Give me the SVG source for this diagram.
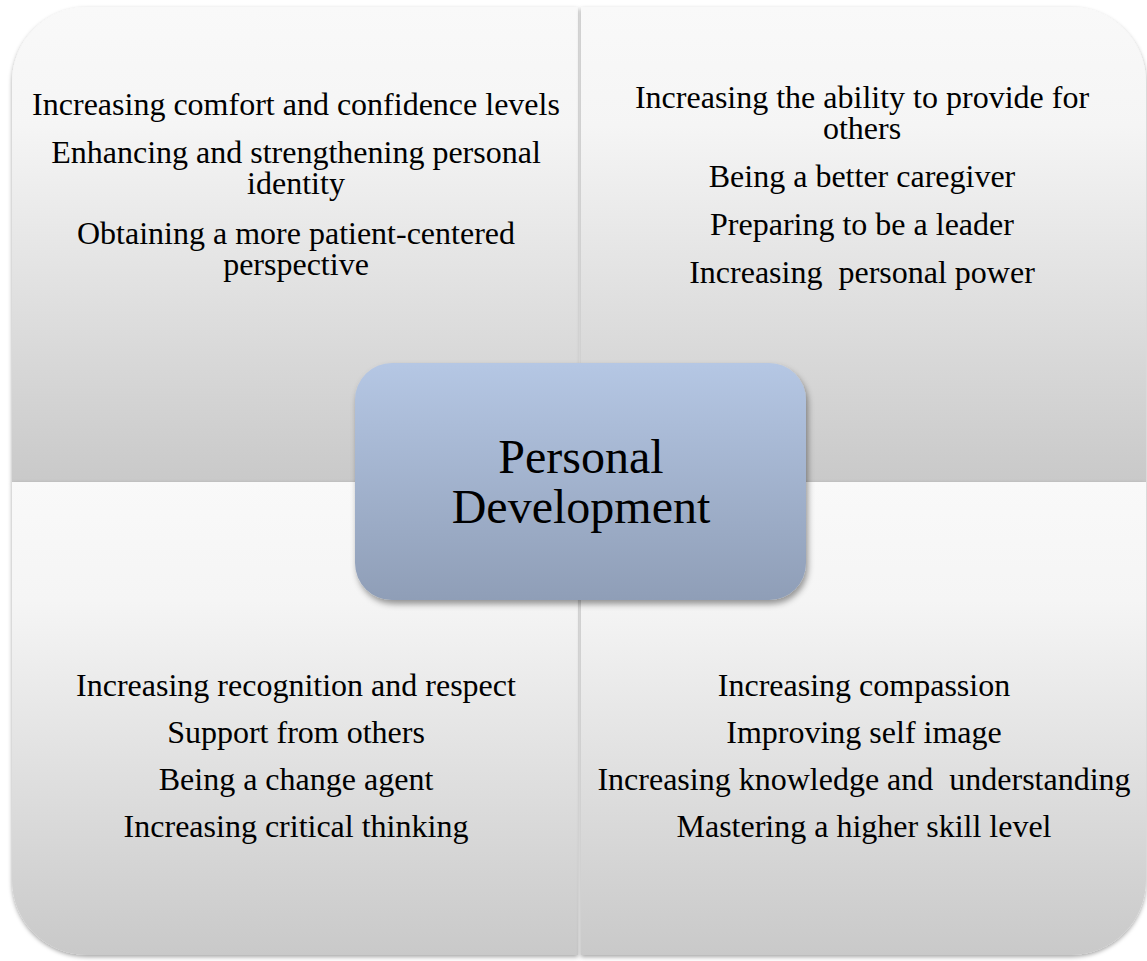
<svg xmlns="http://www.w3.org/2000/svg" width="1147" height="961" viewBox="0 0 1147 961">
<style>
  .q text, .c text { font-family: "Liberation Serif", "Times New Roman", serif; fill: #000; text-anchor: middle; }
  .q text { font-size: 32px; white-space: pre; }
  .c text { font-size: 48px; }
</style>
<defs>
  <linearGradient id="gq" x1="0" y1="0" x2="0" y2="1">
    <stop offset="0" stop-color="#f9f9f9"/>
    <stop offset="0.25" stop-color="#f5f5f5"/>
    <stop offset="1" stop-color="#c9c9c9"/>
  </linearGradient>
  <linearGradient id="gc" x1="0" y1="0" x2="0" y2="1">
    <stop offset="0" stop-color="#b5c7e4"/>
    <stop offset="1" stop-color="#8f9eb7"/>
  </linearGradient>
  <filter id="sh" x="-5%" y="-5%" width="110%" height="110%">
    <feDropShadow dx="0" dy="2" stdDeviation="2" flood-color="#000" flood-opacity="0.35"/>
  </filter>
  <filter id="shc" x="-10%" y="-10%" width="120%" height="125%">
    <feDropShadow dx="2" dy="4" stdDeviation="3" flood-color="#000" flood-opacity="0.4"/>
  </filter>
</defs>
<rect width="1147" height="961" fill="#ffffff"/>
<g id="q-top-left" class="q">
  <path d="M12,82 A75,75 0 0 1 87,7 L578,7 L578,482 L12,482 Z" fill="url(#gq)" filter="url(#sh)"/>
  <text x="296" y="115">Increasing comfort and confidence levels</text>
  <text x="296" y="163">Enhancing and strengthening personal<tspan x="296" dy="31">identity</tspan></text>
  <text x="296" y="244">Obtaining a more patient-centered<tspan x="296" dy="31">perspective</tspan></text>
</g>
<g id="q-top-right" class="q">
  <path d="M581,7 L1071,7 A75,75 0 0 1 1146,82 L1146,482 L581,482 Z" fill="url(#gq)" filter="url(#sh)"/>
  <text x="862" y="108">Increasing the ability to provide for<tspan x="862" dy="31">others</tspan></text>
  <text x="862" y="187">Being a better caregiver</text>
  <text x="862" y="235">Preparing to be a leader</text>
  <text x="862" y="283">Increasing  personal power</text>
</g>
<g id="q-bottom-left" class="q">
  <path d="M12,482 L578,482 L578,955 L87,955 A75,75 0 0 1 12,880 Z" fill="url(#gq)" filter="url(#sh)"/>
  <text x="296" y="696">Increasing recognition and respect</text>
  <text x="296" y="743">Support from others</text>
  <text x="296" y="790">Being a change agent</text>
  <text x="296" y="837">Increasing critical thinking</text>
</g>
<g id="q-bottom-right" class="q">
  <path d="M581,482 L1146,482 L1146,880 A75,75 0 0 1 1071,955 L581,955 Z" fill="url(#gq)" filter="url(#sh)"/>
  <text x="864" y="696">Increasing compassion</text>
  <text x="864" y="743">Improving self image</text>
  <text x="864" y="790">Increasing knowledge and  understanding</text>
  <text x="864" y="837">Mastering a higher skill level</text>
</g>
<g id="connectors"></g>
<g id="center" class="c">
  <rect x="355" y="363" width="451" height="237" rx="37" ry="37" fill="url(#gc)" filter="url(#shc)"/>
  <text x="581" y="473">Personal</text>
  <text x="581" y="523">Development</text>
</g>
</svg>
